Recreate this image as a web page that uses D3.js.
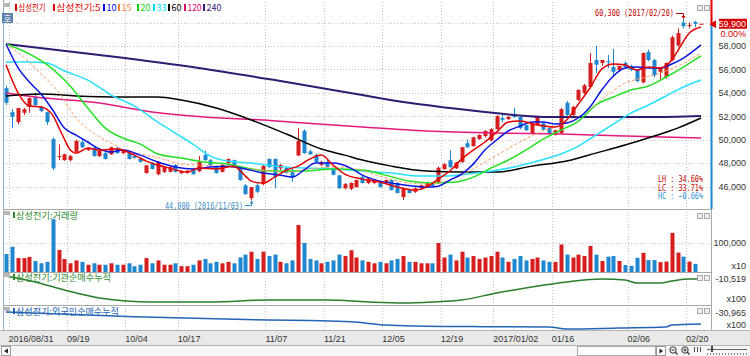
<!DOCTYPE html>
<html><head><meta charset="utf-8">
<script src="https://cdn.jsdelivr.net/npm/d3@7/dist/d3.min.js"></script>
<style>
html,body{margin:0;padding:0;background:#fff;overflow:hidden}
svg{display:block}
text{font-family:"Liberation Sans",Arial,sans-serif;font-size:9px}
.kr{font-family:"Noto Sans CJK KR",sans-serif}
.mono{font-family:"DejaVu Sans Mono","Liberation Mono",monospace}
</style></head><body>
<svg id="chart" width="750" height="356"></svg>
<script>
// ---------------- DATA ----------------
const dates = ["08/31","09/01","09/02","09/05","09/06","09/07","09/08","09/09","09/12","09/13","09/19","09/20","09/21","09/22","09/23","09/26","09/27","09/28","09/29","09/30","10/04","10/05","10/06","10/07","10/10","10/11","10/12","10/13","10/14","10/17","10/18","10/19","10/20","10/21","10/24","10/25","10/26","10/27","10/28","10/31","11/01","11/02","11/03","11/04","11/07","11/08","11/09","11/10","11/11","11/14","11/15","11/16","11/17","11/18","11/21","11/22","11/23","11/24","11/25","11/28","11/29","11/30","12/01","12/02","12/05","12/06","12/07","12/08","12/09","12/12","12/13","12/14","12/15","12/16","12/19","12/20","12/21","12/22","12/23","12/26","12/27","12/28","12/29","01/02","01/03","01/04","01/05","01/06","01/09","01/10","01/11","01/12","01/13","01/16","01/17","01/18","01/19","01/20","01/23","01/24","01/25","01/26","01/31","02/01","02/02","02/03","02/06","02/07","02/08","02/09","02/10","02/13","02/14","02/15","02/16","02/17","02/20","02/21","02/22","02/23"];
const tickDates  = ["08/31","09/19","10/04","10/17","11/07","11/21","12/05","12/19","01/02","01/16","02/06","02/20"];
const tickLabels = ["2016/08/31","09/19","10/04","10/17","11/07","11/21","12/05","12/19","2017/01/02","01/16","02/06","02/20"];

const open  = [54400,52350,51500,52300,52800,53650,52800,52350,50050,48550,48250,48250,48950,49800,49100,49300,48600,48850,48750,49300,48850,48850,48600,48350,47150,48000,47050,47250,47250,47850,47150,47150,47500,47300,48700,48250,47750,47250,48000,48250,47600,46100,45000,46100,46200,48350,48350,47550,47600,47400,48650,50750,49000,48700,47850,48100,47550,46950,45850,45800,45950,46800,46300,46300,46400,46300,46550,46300,45100,45700,45550,45850,45950,46300,46300,47500,48250,47550,48100,49700,49450,50050,50300,49950,50900,51850,51750,52200,51950,51250,50550,51250,51400,51000,50400,50550,53150,52100,53400,54000,54500,56800,56550,56700,56200,55950,56550,56300,55950,54900,57500,56800,55800,55350,56800,58050,60000,59750,60050,59900];
const high  = [54600,52600,52700,52700,53600,54000,52900,52400,50200,49600,48800,48700,50000,50100,49350,49400,49100,49000,49400,49400,49200,49000,48700,48450,47850,48100,48150,47700,47700,47900,47350,47400,47600,48600,49050,48350,47800,47900,48400,48300,47700,46200,45950,46300,47900,48400,48400,47900,47700,47500,51000,50880,49150,48800,48200,48300,47600,47000,46300,46350,46550,46900,46750,46600,46500,46600,46600,46400,45900,45800,45900,46150,46350,46350,47700,48000,49100,48100,49400,50000,50250,50450,50800,51000,52100,52200,52000,52700,52000,51300,51500,52000,51500,51050,50850,52700,53300,52900,54300,54750,57400,58000,56800,57230,57750,56300,56700,56400,56000,57450,57700,56900,56200,56600,58900,59500,60300,60000,60150,59900];
const low   = [52950,51000,51300,52100,52300,52900,52350,51250,47400,48250,48200,48150,48900,49300,49050,48550,48500,48300,48700,48800,48750,48300,48400,48050,47100,47450,46950,47150,47200,47200,47050,47100,47000,47250,48200,47750,47100,47200,47950,47800,46500,45300,44800,45450,46100,47600,45850,47400,47100,46400,48600,48800,48700,48050,47750,47600,46950,45800,45750,45700,45900,46250,46200,46200,45900,46250,45650,45400,44850,45400,45450,45750,45900,46000,46200,47400,47600,47500,48000,49300,49400,50000,50200,49850,50850,51500,51700,51850,50900,50750,50500,51200,50800,50500,50350,50500,52050,52000,53300,53900,54400,55700,56300,56120,55350,55800,56100,55850,54900,54800,56700,55300,55100,55200,56700,57900,59500,59500,59600,59900];
const close = [53150,51950,52700,52600,53550,52950,52450,51500,47550,48600,48750,48600,49900,49350,49300,48600,49050,48350,49350,48850,49100,48350,48450,48100,47800,47500,48100,47650,47650,47250,47300,47350,47050,48100,48250,47850,47150,47850,48350,47850,46550,45350,45950,45550,47750,47650,46800,47850,47150,46800,49900,48850,48750,48100,48100,47650,47000,45850,46200,46300,46550,46300,46700,46550,45950,46550,45700,45450,45850,45450,45850,46100,46300,46050,47600,47900,47650,48050,49350,49350,50200,50400,50750,50900,52000,51700,51950,51950,51000,50800,51400,51950,50850,50550,50800,52600,52100,52800,54250,54650,56550,56400,56800,56600,55800,56300,56200,55950,55000,57400,56800,55500,56100,56550,58750,59100,59700,59800,59900,59900];
const volume = [62000,87000,48000,48000,52000,38000,30000,35000,182000,76000,45000,30000,40000,35000,25000,30000,25000,25000,30000,25000,25000,30000,20000,25000,48000,30000,40000,25000,25000,30000,20000,20000,25000,40000,45000,30000,35000,30000,35000,30000,50000,60000,70000,45000,70000,55000,60000,35000,30000,40000,162000,100000,45000,40000,30000,35000,40000,60000,55000,75000,50000,40000,35000,30000,35000,30000,40000,45000,55000,35000,35000,30000,30000,30000,100000,50000,60000,40000,70000,50000,55000,45000,50000,55000,70000,50000,35000,45000,55000,40000,45000,50000,40000,35000,35000,95000,60000,50000,60000,55000,90000,60000,38000,53000,55000,38000,24000,21000,49000,66000,41000,41000,34000,36000,135000,67000,53000,36000,28000,0];

// moving averages, read at the listed candle positions
const ma5Idx  = [0,2,4,6,8,9,10,11,12,14,16,19,22,24,26,28,31,33,36,39,41,42,44,46,48,50,52,54,56,58,61,64,67,70,72,74,76,78,80,82,84,86,88,91,94,96,98,100,102,104,106,108,110,112,114,115,117,119];
const ma5     = [56400,54070,52870,52790,52100,51080,50050,49110,48850,49280,49110,49200,48680,48170,47830,47570,47230,47570,47490,47740,46890,46460,46290,46800,47400,47740,48340,48680,47830,47060,46630,46380,45950,45690,45950,46630,47320,48340,49110,49800,50650,51500,51590,51250,51080,51680,53040,54410,56030,56460,56380,55950,56200,56120,56800,57570,59110,59620];
const ma10Idx = [0,2,4,6,8,10,12,14,16,18,20,23,26,29,32,35,38,41,44,47,49,51,53,56,59,61,64,67,70,72,74,76,78,80,82,84,86,88,90,92,94,96,98,100,102,104,106,108,110,112,114,116,119];
const ma10    = [58170,56200,54920,53900,52530,50990,50390,49800,49200,48940,49110,48680,48090,47660,47490,47660,47740,47490,47150,46970,46800,47400,48000,48000,47570,46970,46460,46210,46030,45950,46030,46550,47060,47910,49110,49970,50740,51160,51500,51500,51330,51420,51850,52790,54240,55440,56120,56200,56120,56120,56460,56970,58090];
const ma15Idx = [0,3,6,9,12,15,18,21,24,27,30,33,36,40,44,48,52,56,60,64,68,72,76,79,82,85,88,91,94,97,100,103,106,109,112,115,119];
const ma15    = [58170,57060,55610,54070,51850,50560,49710,48940,48680,48340,47910,47830,47740,47570,47400,47230,47490,47660,47490,46890,46380,46210,46550,47230,48090,48940,49800,50560,51080,51680,52610,53810,54840,55260,55690,56290,57400];
const ma20Idx = [0,4,8,11,14,17,20,23,26,30,34,38,42,46,51,56,61,65,69,73,77,80,83,86,89,92,95,98,101,104,107,110,113,116,119];
const ma20    = [58170,57320,56030,54580,52700,50990,50140,49620,48770,48430,48090,47910,47490,47320,47320,47490,47400,46970,46460,46290,46380,46800,47570,48260,49110,50050,50820,51590,52960,53640,54240,54580,55350,56200,57150];
const ma33Idx = [0,4,7,10,14,18,22,26,29,32,35,38,42,46,51,56,61,66,71,75,79,83,87,91,95,98,101,104,107,110,113,116,119];
const ma33    = [56630,56630,56550,55860,55090,53810,52870,51500,50560,49620,48600,48170,48000,47740,47570,47490,47320,47150,46890,46890,47060,47320,47660,48170,48770,49450,50390,51330,52270,52960,53730,54500,55090];
const ma60Idx = [0,6,12,20,26,30,36,42,48,54,58,61,66,72,78,84,90,96,101,106,111,115,119];
const ma60    = [53730,53900,53730,53640,53640,53380,52700,51680,50480,49200,48680,48260,47740,47320,47230,47230,47740,48170,48850,49540,50310,50990,51850];
const ma120Idx = [0,5,16,25,34,44,51,61,72,84,95,106,119];
const ma120    = [53980,53640,53130,52360,51930,51680,51420,51080,50740,50560,50480,50310,50140];
const ma240Idx = [0,16,33,46,61,68,76,82,87,93,102,110,119];
const ma240    = [58170,57230,56120,55090,53810,53210,52700,52360,52100,51930,51930,51930,52020];

// cumulative net buying (x100)
const instIdx = [0,5,10,16,25,35,45,55,62,68,73,78,84,90,96,102,106,108,112,114,117,119];
const inst    = [-6800,-14150,-24000,-33850,-38770,-38770,-36300,-36300,-38770,-40000,-38770,-36300,-27700,-20300,-14150,-10500,-11750,-15400,-15400,-13000,-10500,-10519];
const forIdx  = [0,22,34,45,52,59,65,70,82,93,96,105,113,114,119];
const foreign = [-29000,-47500,-55000,-60500,-63000,-67300,-80300,-84200,-87000,-88200,-96100,-92100,-88200,-80300,-76300];

const priceTicks = [46000,48000,50000,52000,54000,56000,58000];
const gridPrices = [46000,48000,50000,52000,54000,56000,58000,60000];
const legendItems = [
  {t:"삼성전기",c:"#d40000",x:15,w:27},{t:"삼성전기:5",c:"#e00000",x:53,w:44},
  {t:"10",c:"#0000ee",x:103,w:10},{t:"15",c:"#ff8040",x:118,w:10},{t:"20",c:"#16d016",x:137,w:10},
  {t:"33",c:"#00dcff",x:153,w:10},{t:"60",c:"#000000",x:168,w:10},{t:"120",c:"#e0006a",x:184,w:14},{t:"240",c:"#3c1a80",x:203,w:15}];
const maStyles = [
  {idx:ma240Idx,v:ma240,c:"#2f1c72",w:2},{idx:ma120Idx,v:ma120,c:"#e4197e",w:1.5},
  {idx:ma60Idx,v:ma60,c:"#000000",w:1.5},{idx:ma33Idx,v:ma33,c:"#28e0ff",w:1.5},
  {idx:ma20Idx,v:ma20,c:"#22e022",w:1.5},{idx:ma15Idx,v:ma15,c:"#ff9a60",w:1,dash:"3,2"},
  {idx:ma10Idx,v:ma10,c:"#0a14e0",w:1.5},{idx:ma5Idx,v:ma5,c:"#e40000",w:1.5}];

// ---------------- DRAW ----------------
const svg = d3.select("#chart");
const UP="#d71e1e", DN="#1f87cf";
const x  = d3.scalePoint().domain(dates).range([6, 701]);
const y  = d3.scaleLinear().domain([46000,58000]).range([186.5,46]);
const yv = d3.scaleLinear().domain([0,100000]).range([272,243]);
const yi = d3.scaleLinear().domain([-40000,-8000]).range([303,277]);
const yf = d3.scaleLinear().domain([-100000,-30965]).range([330,312.5]);

svg.append("rect").attr("width",750).attr("height",356).attr("fill","#fff");
const defs = svg.append("defs");
defs.append("clipPath").attr("id","cm").append("rect").attr("x",4).attr("y",2).attr("width",706).attr("height",207);
defs.append("clipPath").attr("id","cl").append("rect").attr("x",4).attr("y",210).attr("width",706).attr("height",120);

// grid
const grid = svg.append("g").attr("stroke","#c4c4c4").attr("stroke-dasharray","1,2");
gridPrices.forEach(p=>grid.append("line").attr("x1",4).attr("x2",710).attr("y1",Math.round(y(p))+0.5).attr("y2",Math.round(y(p))+0.5));
grid.append("line").attr("x1",4).attr("x2",710).attr("y1",Math.round(yv(100000))+0.5).attr("y2",Math.round(yv(100000))+0.5);
tickDates.forEach(d=>{const gx=Math.round(x(d)+2.5)+0.5; grid.append("line").attr("x1",gx).attr("x2",gx).attr("y1",2).attr("y2",330);});

// panel frames
const fr = svg.append("g").attr("stroke","#a8a8a8").attr("fill","none");
[209.5,272.5,305.5].forEach(v=>fr.append("line").attr("x1",3).attr("x2",712).attr("y1",v).attr("y2",v));
fr.append("line").attr("x1",711.5).attr("x2",711.5).attr("y1",210).attr("y2",330);
svg.append("line").attr("x1",3.5).attr("x2",3.5).attr("y1",0).attr("y2",330).attr("stroke","#8fb0d0");

// x-axis band & scrollbar
svg.append("rect").attr("x",0).attr("y",330).attr("width",750).attr("height",15).attr("fill","#e9e9e9");
svg.append("line").attr("x1",0).attr("x2",750).attr("y1",330.5).attr("y2",330.5).attr("stroke","#b4b4b4");
svg.append("rect").attr("x",0).attr("y",345).attr("width",750).attr("height",11).attr("fill","#f6f6f6");
svg.append("line").attr("x1",0).attr("x2",750).attr("y1",345.5).attr("y2",345.5).attr("stroke","#b4b4b4");
svg.append("rect").attr("x",1.5).attr("y",346.5).attr("width",9).attr("height",9).attr("fill","#fff").attr("stroke","#999");
svg.append("path").attr("d","M4,351 L8,348.5 L8,353.5 Z").attr("fill","#222");
svg.append("rect").attr("x",577.5).attr("y",346.5).attr("width",78).attr("height",9).attr("fill","#fff").attr("stroke","#aaa");
svg.append("rect").attr("x",656.5).attr("y",346.5).attr("width",9).attr("height",9).attr("fill","#fff").attr("stroke","#999");
svg.append("path").attr("d","M659.5,348.5 L663,351 L659.5,353.5 Z").attr("fill","#222");
[673,685].forEach((cx,k)=>{svg.append("circle").attr("cx",cx).attr("cy",350).attr("r",3.2).attr("fill","none").attr("stroke","#333");
  svg.append("line").attr("x1",cx+2.3).attr("y1",352.3).attr("x2",cx+4.5).attr("y2",354.5).attr("stroke","#333").attr("stroke-width",1.3);
  svg.append("line").attr("x1",cx-1.6).attr("x2",cx+1.6).attr("y1",350).attr("y2",350).attr("stroke","#333");
  if(k===1) svg.append("line").attr("x1",cx).attr("x2",cx).attr("y1",348.4).attr("y2",351.6).attr("stroke","#333");});
[694,697,700].forEach(v=>svg.append("line").attr("x1",v+0.5).attr("x2",v+0.5).attr("y1",347).attr("y2",352).attr("stroke","#555"));
svg.append("line").attr("x1",707).attr("x2",747).attr("y1",349.5).attr("y2",349.5).attr("stroke","#666");
svg.append("rect").attr("x",711).attr("y",346).attr("width",2).attr("height",6).attr("fill","#444");
d3.range(707,748,3).forEach(v=>svg.append("line").attr("x1",v+0.5).attr("x2",v+0.5).attr("y1",353).attr("y2",355).attr("stroke","#888"));

// candles
const main = svg.append("g").attr("clip-path","url(#cm)");
const cd = dates.map((d,i)=>({d,i,o:open[i],h:high[i],l:low[i],c:close[i],v:volume[i]}));
const col = c => c.c>=c.o?UP:DN;
const cx = c => Math.round(x(c.d));
main.selectAll("line.wk").data(cd).join("line").attr("class","wk")
  .attr("x1",c=>cx(c)+0.5).attr("x2",c=>cx(c)+0.5).attr("y1",c=>y(c.h)).attr("y2",c=>y(c.l)).attr("stroke",col);
main.selectAll("rect.bd").data(cd).join("rect").attr("class","bd")
  .attr("x",c=>cx(c)-1.5).attr("width",4)
  .attr("y",c=>y(Math.max(c.o,c.c))).attr("height",c=>Math.max(1,Math.abs(y(c.o)-y(c.c))))
  .attr("fill",col);

// moving averages
maStyles.forEach(m=>{
  const ln = d3.line().x(i=>x(dates[i])).y((i,k)=>y(m.v[k])).curve(d3.curveMonotoneX);
  main.append("path").attr("d",ln(m.idx)).attr("fill","none").attr("stroke",m.c).attr("stroke-width",m.w)
    .attr("stroke-dasharray",m.dash||null);
});

// volume
const low3 = svg.append("g").attr("clip-path","url(#cl)");
low3.selectAll("rect.vb").data(cd.filter(c=>c.v>0)).join("rect").attr("class","vb")
  .attr("x",c=>cx(c)-1.5).attr("width",4).attr("y",c=>yv(c.v)).attr("height",c=>yv(0)-yv(c.v)).attr("fill",col);

// cumulative lines
low3.append("path").attr("d",d3.line().x(i=>x(dates[i])).y((i,k)=>yi(inst[k])).curve(d3.curveMonotoneX)(instIdx))
  .attr("fill","none").attr("stroke","#2a7d2a").attr("stroke-width",1.5);
low3.append("path").attr("d",d3.line().x(i=>x(dates[i])).y((i,k)=>yf(foreign[k])).curve(d3.curveMonotoneX)(forIdx))
  .attr("fill","none").attr("stroke","#2464b4").attr("stroke-width",1.5);

// right axes
const ax = svg.append("g").attr("transform","translate(746,0)")
  .call(d3.axisRight(y).tickValues(priceTicks).tickSize(0).tickPadding(0).tickFormat(d3.format(",")));
ax.select(".domain").remove();
ax.selectAll("text").attr("text-anchor","end").attr("fill","#333").attr("font-size","9px").attr("font-family","Liberation Sans,Arial,sans-serif");
function rtext(s,yy,c){svg.append("text").attr("x",746).attr("y",yy).attr("text-anchor","end").attr("fill",c||"#333").text(s);}
rtext("100,000",yv(100000)+3); rtext("x10",269);
rtext("-10,519",yi(-10519)+3); rtext("x100",302);
rtext("-30,965",yf(-30965)+3.5); rtext("x100",328);

// price range bar & current price
const lastP = close[close.length-1];
svg.append("rect").attr("x",710.5).attr("y",0).attr("width",2).attr("height",y(lastP)).attr("fill","#e00000");
svg.append("rect").attr("x",710.5).attr("y",y(lastP)).attr("width",2).attr("height",209-y(lastP)).attr("fill","#1f87cf");
svg.append("path").attr("d",`M709.5,${y(lastP)+0.5} L716,${y(lastP)-3.5} L716,${y(lastP)+4.5} Z`).attr("fill","#e00000");
svg.append("rect").attr("x",719).attr("y",y(lastP)-5).attr("width",28).attr("height",10).attr("fill","#d40000");
svg.append("text").attr("x",746).attr("y",y(lastP)+3.2).attr("text-anchor","end").attr("fill","#fff").text(d3.format(",")(lastP));
rtext("0.00%",y(lastP)+13,"#d40000");

// x-axis labels
tickDates.forEach((d,k)=>svg.append("text").attr("x",x(d)+2.5).attr("y",341.5).attr("fill","#333").text(tickLabels[k]));

// legend main
svg.append("rect").attr("x",3).attr("y",3).attr("width",7).attr("height",4).attr("fill","#b8b8b8");
svg.append("rect").attr("x",2).attr("y",13).attr("width",11).attr("height",10).attr("fill","#5a80ad");
svg.append("text").attr("class","kr").attr("x",7.5).attr("y",21.5).attr("text-anchor","middle").attr("fill","#fff").attr("font-size","8px").text("호");
legendItems.forEach(it=>{
  svg.append("rect").attr("x",it.x).attr("y",4).attr("width",2).attr("height",7).attr("fill",it.c);
  svg.append("text").attr("class","kr").attr("x",it.x+3.5).attr("y",11).attr("fill",it.c).attr("font-size","8.5px")
    .attr("textLength",it.w).attr("lengthAdjust","spacingAndGlyphs").text(it.t);
});
// lower legends
function plegend(yy,label,c,w){
  svg.append("rect").attr("x",3).attr("y",yy-6).attr("width",7).attr("height",4).attr("fill","#b8b8b8");
  svg.append("rect").attr("x",13).attr("y",yy-5).attr("width",2).attr("height",6).attr("fill",c);
  svg.append("text").attr("class","kr").attr("x",16).attr("y",yy+1.5).attr("fill",c).attr("font-size","8.5px")
    .attr("textLength",w).attr("lengthAdjust","spacingAndGlyphs").text(label);
}
plegend(217,"삼성전기:거래량","#2e8b2e",62);
plegend(279,"삼성전기:기관순매수누적","#2e8b2e",95);
plegend(313,"삼성전기:외국인순매수누적","#2464b4",103);
// panel icons
[5,213,275,308].forEach(yy=>[697,704].forEach(xx=>svg.append("rect").attr("x",xx+0.5).attr("y",yy+0.5).attr("width",5).attr("height",5).attr("fill","#eee").attr("stroke","#aaa")));

// annotations
const iH = high.indexOf(d3.max(high)), iL = low.indexOf(d3.min(low));
const hx = Math.round(x(dates[iH]))+0.5, lx = Math.round(x(dates[iL]))+0.5;
svg.append("text").attr("class","mono").attr("x",595).attr("y",16).attr("fill","#c00000").attr("font-size","8.5px")
  .attr("textLength",79).attr("lengthAdjust","spacingAndGlyphs").text(`${d3.format(",")(high[iH])} (2017/${dates[iH]})`);
svg.append("path").attr("d",`M676,13.5 H${hx} V${y(high[iH])-1}`).attr("fill","none").attr("stroke","#c00000");
svg.append("path").attr("d",`M${hx-2},${y(high[iH])-3} L${hx+2},${y(high[iH])-3} L${hx},${y(high[iH])} Z`).attr("fill","#c00000");
svg.append("text").attr("class","mono").attr("x",165).attr("y",208.5).attr("fill","#3a8cc8").attr("font-size","8.5px")
  .attr("textLength",78).attr("lengthAdjust","spacingAndGlyphs").text(`${d3.format(",")(low[iL])} (2016/${dates[iL]})`);
svg.append("path").attr("d",`M245,205.5 H${lx} V${y(low[iL])+1}`).attr("fill","none").attr("stroke","#3a8cc8");
svg.append("path").attr("d",`M${lx-2},${y(low[iL])+3} L${lx+2},${y(low[iL])+3} L${lx},${y(low[iL])} Z`).attr("fill","#3a8cc8");
const pct = v=>d3.format(".2f")(v*100)+"%";
const LH=(high[iH]-low[iL])/low[iL], LC=(lastP-low[iL])/low[iL], HC=(lastP-high[iH])/high[iH];
[["LH : "+pct(LH),182,"#c00000"],["LC : "+pct(LC),190.5,"#c00000"],["HC : "+pct(HC),199,"#2f8fd0"]].forEach(r=>
  svg.append("text").attr("class","mono").attr("x",703).attr("y",r[1]).attr("text-anchor","end").attr("fill",r[2]).attr("font-size","8px")
   .attr("textLength",45).attr("lengthAdjust","spacingAndGlyphs").text(r[0]));
</script></body></html>
